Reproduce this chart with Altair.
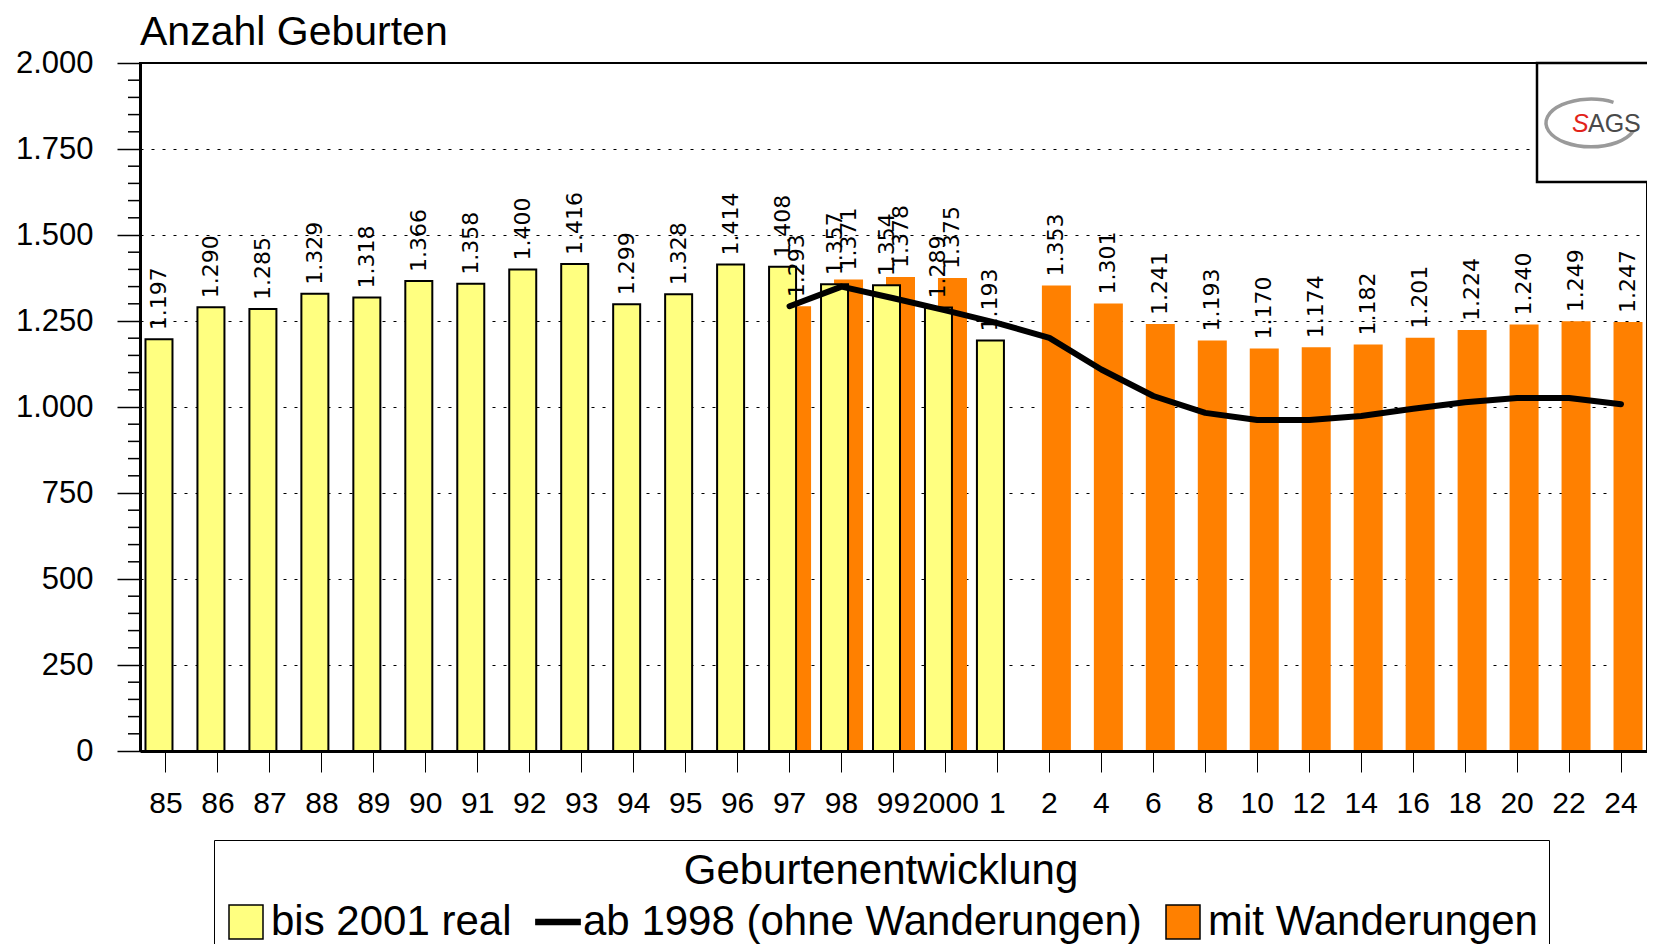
import altair as alt
import pandas as pd

# ---------------- data ----------------
categories = ["85", "86", "87", "88", "89", "90", "91", "92", "93", "94", "95", "96",
              "97", "98", "99", "2000", "1", "2", "4", "6", "8", "10", "12", "14",
              "16", "18", "20", "22", "24"]

real_values = [1197, 1290, 1285, 1329, 1318, 1366, 1358, 1400, 1416, 1299, 1328, 1414,
               1408, 1357, 1354, 1289, 1193,
               None, None, None, None, None, None, None, None, None, None, None, None]

mit_values = [None, None, None, None, None, None, None, None, None, None, None, None,
              1293, 1371, 1378, 1375, None,
              1353, 1301, 1241, 1193, 1170, 1174, 1182, 1201, 1224, 1240, 1249, 1247]

ohne_values = [None, None, None, None, None, None, None, None, None, None, None, None,
               1293, 1350, 1316, 1281, 1244,
               1201, 1109, 1032, 983, 962, 962, 974, 995, 1014, 1026, 1026, 1008]

series_names = ["bis 2001 real", "ab 1998 (ohne Wanderungen)", "mit Wanderungen"]
series_colors = ["#FFFF80", "#000000", "#FF8000"]

y_major_ticks = [0, 250, 500, 750, 1000, 1250, 1500, 1750, 2000]
y_minor_ticks = [50, 100, 150, 200, 300, 350, 400, 450, 550, 600, 650, 700,
                 800, 850, 900, 950, 1050, 1100, 1150, 1200, 1300, 1350, 1400, 1450,
                 1550, 1600, 1650, 1700, 1800, 1850, 1900, 1950]

FONT = "Liberation Sans, Arial, Helvetica, sans-serif"
LABEL_FONT = "DejaVu Sans, Verdana, sans-serif"


def de_fmt(v):
    return f"{int(v):,}".replace(",", ".")


def make_df(values):
    rows = [(c, v) for c, v in zip(categories, values) if v is not None]
    d = pd.DataFrame(rows, columns=["Jahr", "Anzahl"])
    d["Label"] = d["Anzahl"].map(de_fmt)
    return d


df_real = make_df(real_values)
df_mit = make_df(mit_values)
df_ohne = make_df(ohne_values)
df_minor = pd.DataFrame({"v": y_minor_ticks})
df_legend = pd.DataFrame({"Serie": series_names, "leer": [None, None, None]})
df_logo = pd.DataFrame({"logo": ["SAGS"]})

# ---------------- scales / axes ----------------
x_scale = alt.Scale(domain=categories, paddingInner=0, paddingOuter=0)
y_scale = alt.Scale(domain=[0, 2000], nice=False, zero=True)

x_axis = alt.Axis(title=None, labelAngle=0, labelFont=FONT, labelFontSize=30,
                  labelColor="black", labelPadding=16, labelOverlap=False,
                  tickSize=21, tickColor="black", tickWidth=1,
                  domainColor="black", domainWidth=3, grid=False, zindex=1)

y_axis = alt.Axis(title=None, values=y_major_ticks,
                  labelExpr="replace(format(datum.value, ',d'), ',', '.')",
                  labelFont=FONT, labelFontSize=31, labelColor="black",
                  labelPadding=24, tickSize=23, tickColor="black", tickWidth=1.5,
                  domainColor="black", domainWidth=3,
                  grid=True, gridColor="black", gridDash=[3, 8], gridWidth=1)


def xe():
    return alt.X("Jahr:N", scale=x_scale, axis=x_axis)


def ye(field="Anzahl"):
    return alt.Y(f"{field}:Q", scale=y_scale, axis=y_axis)


# ---------------- layers ----------------
bars_mit = alt.Chart(df_mit).mark_bar(
    fill="#FF8000", size=29, xOffset=7
).encode(x=xe(), y=ye())

bars_real = alt.Chart(df_real).mark_bar(
    fill="#FFFF80", stroke="black", strokeWidth=2, size=27, xOffset=-7
).encode(x=xe(), y=ye())

line_ohne = alt.Chart(df_ohne).mark_line(
    color="black", strokeWidth=6, strokeCap="round", strokeJoin="round"
).encode(x=xe(), y=ye())

labels_real = alt.Chart(df_real).mark_text(
    angle=270, align="left", baseline="middle", dx=9, xOffset=-7,
    font=LABEL_FONT, fontSize=22, color="black"
).encode(x=xe(), y=ye(), text="Label:N")

labels_mit = alt.Chart(df_mit).mark_text(
    angle=270, align="left", baseline="middle", dx=9, xOffset=7,
    font=LABEL_FONT, fontSize=22, color="black"
).encode(x=xe(), y=ye(), text="Label:N")

minor_ticks = alt.Chart(df_minor).mark_rule(
    color="black", strokeWidth=1.5
).encode(y=ye("v"), x=alt.value(-12), x2=alt.value(0))

# SAGS logo box (decoration in the upper right corner)
logo_box = alt.Chart(df_logo).mark_rect(
    fill="white", stroke="black", strokeWidth=2.5
).encode(x=alt.value(1397), x2=alt.value(1510), y=alt.value(0), y2=alt.value(119))

logo_swoosh = alt.Chart(df_logo).mark_point(
    shape="M 0.5 -0.46 A 1 0.53 0 1 0 0.94 0.18", size=8100,
    filled=False, stroke="#9a9a9a", strokeWidth=3.5, opacity=1
).encode(x=alt.value(1451), y=alt.value(60))

logo_s = alt.Chart(df_logo).mark_text(
    text="S", align="left", baseline="alphabetic", font=FONT, fontSize=25,
    color="#e2231a", fontStyle="italic"
).encode(x=alt.value(1432), y=alt.value(69))

logo_ags = alt.Chart(df_logo).mark_text(
    text="AGS", align="left", baseline="alphabetic", font=FONT, fontSize=25,
    color="#4a4a4a"
).encode(x=alt.value(1448), y=alt.value(69))

# legend
legend = alt.Legend(
    title="Geburtenentwicklung", orient="none", legendX=74, legendY=777,
    direction="horizontal", columns=3, titleAnchor="middle",
    titleFont=FONT, titleFontSize=42, titleFontWeight="normal", titleColor="black",
    titleLimit=3000, titlePadding=8, labelFont=FONT, labelFontSize=42,
    labelColor="black", labelLimit=3000, labelOffset=4, symbolSize=1156,
    symbolStrokeColor="black", symbolStrokeWidth=1.5, columnPadding=20,
    strokeColor="black", fillColor="white", padding=11
)

legend_layer = alt.Chart(df_legend).mark_point(filled=True, opacity=1).encode(
    y=ye("leer"),
    color=alt.Color("Serie:N", scale=alt.Scale(domain=series_names, range=series_colors),
                    legend=legend),
    shape=alt.Shape("Serie:N",
                    scale=alt.Scale(domain=series_names,
                                    range=["square",
                                           "M -1.3 -0.15 L 1.3 -0.15 L 1.3 0.15 L -1.3 0.15 Z",
                                           "square"]),
                    legend=legend),
)

chart = alt.layer(
    bars_mit, bars_real, line_ohne, labels_real, labels_mit, minor_ticks,
    logo_box, logo_swoosh, logo_s, logo_ags, legend_layer
).properties(
    width=1507, height=688,
    padding={"left": 132, "top": 55, "right": 0, "bottom": 193},
    autosize=alt.AutoSizeParams(type="none"),
    background="white",
    title=alt.TitleParams("Anzahl Geburten", anchor="start", frame="group",
                          font=FONT, fontSize=41, fontWeight="normal",
                          color="black", offset=-7),
).configure_view(stroke="black", strokeWidth=2)

chart.save("out.html", embed_options={"renderer": "svg", "actions": False})
